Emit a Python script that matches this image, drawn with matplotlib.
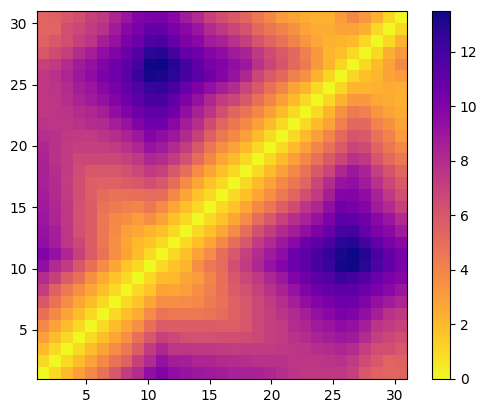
import matplotlib
matplotlib.use('Agg')
import matplotlib.pyplot as plt
import numpy as np

# distance values, bottom row first
dist = [
    [0,1,2,3,3.8,4.9,6,7.2,8,9.4,10,9.4,9.2,9,8.8,8.7,8.5,8.5,8.4,8.2,7.9,7.6,7.4,7.4,7.4,7.4,7,6,5.5,5.3,5.4],
    [1,0,1,1.9,2.9,3.8,4.8,5.5,7,8.1,9.3,8.7,8.6,8.3,8.2,8.1,8,7.9,7.7,7.7,7.7,7.5,7.5,7.5,7.6,7.7,7.3,6.5,6,5.4,5.5],
    [2,1,0,1,1.9,2.8,3.7,4.5,5.7,7.3,8.2,7.5,7.5,7.4,7.4,7.3,7.2,7.3,7.3,7.3,7.4,7.5,7.6,7.9,8,8.3,8,7.1,6.4,6.4,6],
    [3,1.9,1,0,1,1.9,2.7,3.6,4.9,6,7,6.7,6.3,6.3,6.3,6.4,6.4,6.5,6.7,7.1,7.3,7.7,8,8.4,8.7,9,8.8,8,7.1,6.7,6.4],
    [3.8,2.9,1.9,1,0,1,1.9,2.7,3.5,4.9,5.8,5.7,5.7,5.7,5.8,5.6,5.6,6,6.7,7.1,7.3,8,8.2,8.8,9.1,9.5,9.3,8.6,7.6,7.3,7],
    [4.9,3.8,2.8,1.9,1,0,1,1.8,2.5,3.7,4.7,4.5,4.5,4.5,4.7,5.1,5.5,6,6.7,7.1,7.6,8.1,8.6,9.3,9.7,10.2,10,9.4,8.6,7.7,7.4],
    [6,4.8,3.7,2.7,1.9,1,0,1,1.7,2.7,3.6,3.6,3.7,3.8,4.4,4.8,5.5,6,6.7,7.3,7.9,8.6,9.4,9.9,10.3,10.7,10.6,10,9.3,8.8,8.3],
    [7.2,5.5,4.5,3.6,2.7,1.8,1,0,1,1.6,2.8,2.7,3,3.6,4.2,4.9,5.8,6.3,7,7.7,8.4,9.2,10,10.7,11,11.3,11.2,10.8,10.2,9.7,9.1],
    [8,7,5.7,4.9,3.5,2.5,1.7,1,0,1,1.9,2.1,2.7,3.1,4,4.9,6,6.7,7.4,8.2,9,10,10.6,11.3,11.6,12.3,12,11.5,10.8,10.2,9.9],
    [9.4,8.1,7.3,6,4.9,3.7,2.7,1.6,1,0,1,1.7,2.2,3.6,4.5,5.1,6.4,7.3,8.2,9.2,9.9,10.7,11.2,11.9,12.4,13.3,13.4,12.8,11.7,11,10.2],
    [10,9.3,8.2,7,5.8,4.7,3.6,2.8,1.9,1,0,1,1.8,2.8,3.7,5,6,7,8,8.8,9.5,10.7,11.2,11.9,12.5,13.2,13.5,12.9,11.9,11,10.3],
    [9.4,8.7,7.5,6.7,5.7,4.5,3.6,2.7,2.1,1.7,1,0,1,1.8,2.7,3.8,5,6,7.3,8.1,9,9.7,10.6,11.2,11.9,12.8,12.9,12,11,10.3,9.7],
    [9.2,8.6,7.5,6.3,5.7,4.5,3.7,3,2.7,2.2,1.8,1,0,1,1.8,2.7,3.7,5,6.3,7.2,8.1,8.7,9.4,10.1,10.9,11.9,12,11,10.1,9.7,8.8],
    [9,8.3,7.4,6.3,5.7,4.5,3.8,3.6,3.1,3.6,2.8,1.8,1,0,1,1.7,2.7,3.7,5.1,6,7,7.9,8.5,9.3,10.1,11.3,11.2,10.6,9.7,9.1,8.1],
    [8.8,8.2,7.4,6.3,5.8,4.7,4.4,4.2,4,4.5,3.7,2.7,1.8,1,0,1,1.7,2.7,3.8,4.6,5.6,6.5,7.6,8.2,9.4,10.6,10.3,9.9,8.8,8.1,7],
    [8.7,8.1,7.3,6.4,5.6,5.1,4.8,4.9,4.9,5.1,5,3.8,2.7,1.7,1,0,1,1.8,2.7,3.6,4.5,5.4,6.4,7.3,8.6,9.9,10,9.5,8.5,7.4,6.4],
    [8.5,8,7.2,6.4,5.6,5.5,5.5,5.8,6,6.4,6,5,3.7,2.7,1.7,1,0,1,2,2.9,3.8,4.6,5.4,6.8,8,9.2,9.4,8.8,7.8,6.8,5.9],
    [8.5,7.9,7.3,6.5,6,6,6,6.3,6.7,7.3,7,6,5,3.7,2.7,1.8,1,0,1,2,3,3.8,4.7,6,6.9,8.2,9,8.4,7.1,6.2,5.3],
    [8.4,7.7,7.3,6.7,6.7,6.7,6.7,7,7.4,8.2,8,7.3,6.3,5.1,3.8,2.7,2,1,0,1,2,3,3.9,4.9,5.9,6.8,7.7,7.4,6.1,5.2,4.5],
    [8.2,7.7,7.3,7.1,7.1,7.1,7.3,7.7,8.2,9.2,8.8,8.1,7.2,6,4.6,3.6,2.9,2,1,0,1,2,3,4,4.9,5.9,6.9,6.5,5.4,4.6,3.8],
    [7.9,7.7,7.4,7.3,7.3,7.6,7.9,8.4,9,9.9,9.5,9,8.1,7,5.6,4.5,3.8,3,2,1,0,1,2,3,4,5.2,6.1,5.9,4.8,4.1,3.1],
    [7.6,7.5,7.5,7.7,8,8.1,8.6,9.2,10,10.7,10.7,9.7,8.7,7.9,6.5,5.4,4.6,3.8,3,2,1,0,1,2,2.9,4.2,5.2,5.2,4.1,3.5,2.8],
    [7.4,7.5,7.6,8,8.2,8.6,9.4,10,10.6,11.2,11.2,10.6,9.4,8.5,7.6,6.4,5.4,4.7,3.9,3,2,1,0,1,2.2,3.5,4.4,4.2,3.3,2.8,2.5],
    [7.4,7.5,7.9,8.4,8.8,9.3,9.9,10.7,11.3,11.9,11.9,11.2,10.1,9.3,8.2,7.3,6.8,6,4.9,4,3,2,1,0,1,2.3,3.2,3.2,2.7,2.5,2.3],
    [7.4,7.6,8,8.7,9.1,9.7,10.3,11,11.6,12.4,12.5,11.9,10.9,10.1,9.4,8.6,8,6.9,5.9,4.9,4,2.9,2.2,1,0,1.1,2.2,2.2,2.3,2.5,2.4],
    [7.4,7.7,8.3,9,9.5,10.2,10.7,11.3,12.3,13.3,13.2,12.8,11.9,11.3,10.6,9.9,9.2,8.2,6.8,5.9,5.2,4.2,3.5,2.3,1.1,0,1.1,1.8,2.2,2.8,3.1],
    [7,7.3,8,8.8,9.3,10,10.6,11.2,12,13.4,13.5,12.9,12,11.2,10.3,10,9.4,9,7.7,6.9,6.1,5.2,4.4,3.2,2.2,1.1,0,1,2,2.8,3.8],
    [6,6.5,7.1,8,8.6,9.4,10,10.8,11.5,12.8,12.9,12,11,10.6,9.9,9.5,8.8,8.4,7.4,6.5,5.9,5.2,4.2,3.2,2.2,1.8,1,0,1,2.4,3.2],
    [5.5,6,6.4,7.1,7.6,8.6,9.3,10.2,10.8,11.7,11.9,11,10.1,9.7,8.8,8.5,7.8,7.1,6.1,5.4,4.8,4.1,3.3,2.7,2.3,2.2,2,1,0,1,2.3],
    [5.3,5.4,6.4,6.7,7.3,7.7,8.8,9.7,10.2,11,11,10.3,9.7,9.1,8.1,7.4,6.8,6.2,5.2,4.6,4.1,3.5,2.8,2.5,2.5,2.8,2.8,2.4,1,0,1],
    [5.4,5.5,6,6.4,7,7.4,8.3,9.1,9.9,10.2,10.3,9.7,8.8,8.1,7,6.4,5.9,5.3,4.5,3.8,3.1,2.8,2.5,2.3,2.4,3.1,3.8,3.2,2.3,1,0],
]
axis_ticks = [5, 10, 15, 20, 25, 30]
cbar_ticks = [0, 2, 4, 6, 8, 10, 12]

W, H = 487, 413
fig = plt.figure(figsize=(W / 100, H / 100), dpi=100)
ax = fig.add_axes([37 / W, 1 - 379 / H, 370 / W, 368 / H])
cax = fig.add_axes([432 / W, 1 - 379 / H, 18 / W, 368 / H])

im = ax.imshow(np.array(dist), cmap='plasma_r', origin='lower', extent=[1, 31, 1, 31], aspect='auto')
ax.set_xticks(axis_ticks)
ax.set_yticks(axis_ticks)
cb = fig.colorbar(im, cax=cax)
cb.set_ticks(cbar_ticks)

fig.savefig('out.png', dpi=100)
